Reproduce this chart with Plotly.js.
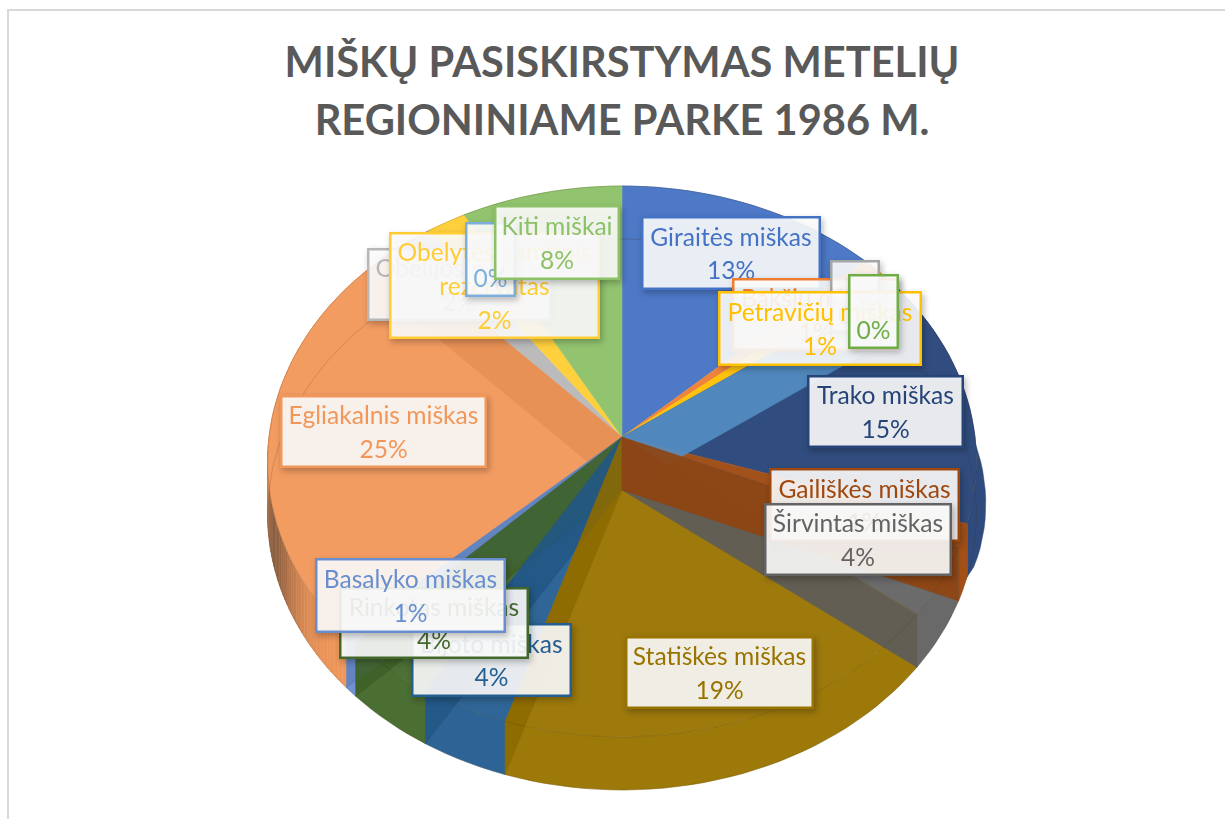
<!DOCTYPE html>
<html>
<head>
<meta charset="utf-8">
<script src="https://cdn.plot.ly/plotly-3.0.1.min.js"></script>
<style>
html,body{margin:0;padding:0;background:#fff;}
.annotation{filter:drop-shadow(2px 3px 3px rgba(0,0,0,.28));}
</style>
</head>
<body>
<div id="chart" style="width:1225px;height:819px;"></div>
<script>
// ---- data ----
const categories = ["Giraitės miškas","Bakšių miškas","","Petravičių miškas","","","Trako miškas","Gailiškės miškas","Širvintas miškas","Statiškės miškas","Bijoto miškas","Rinkotas miškas","Basalyko miškas","Egliakalnis miškas","Obelijos miškas","Obelytės gamtinis<br>rezervatas","","Kiti miškai"];
const shares = [13,1,0,1,0,0,15,1.4,4.1,19.4,3.7,3.9,0.6,24.9,2,2,0,8];
const colors = ["#4472C4","#ED7D31","#A5A5A5","#FFC000","#5B9BD5","#70AD47","#264478","#9E480E","#636363","#997300","#255E91","#43682B","#698ED0","#F1975A","#B7B7B7","#FFCD33","#7CAFDD","#8CC168"];
const titleLines = ["MIŠKŲ PASISKIRSTYMAS METELIŲ","REGIONINIAME PARKE 1986 M."];

// ---- layout of the labels: [category index, left, top, right, bottom] ----
const labelBoxes = [
 [0,641,216,820,289],[1,732,278,898,350],[2,830,260,879,332],[3,718,291,921,365],[5,848,274,898,348],
 [6,807,375,963,447],[7,769,468,959,541],[8,764,503,951,575],[9,625,636,813,708],[10,411,623,571,696],
 [11,339,587,528,658],[12,315,558,505,632],[13,280,395,486,467],[14,367,248,550,320],[15,389,232,599,338],
 [16,465,222,515,296],[17,494,205,619,279]
];

// ---- projection of the tilted disc ----
const AX=622, AY=437, DEPTH=53, RX=353, RY=273.3, K=0.0889;
const TRAKO=6, TRAKO_BULGE=11, EGLIAKALNIS=13;
function rad(d){return d*Math.PI/180;}
function topPt(th){const u=Math.sin(rad(th)),v=Math.cos(rad(th)),d=1+K*v;return [AX+RX*u/d,AY-RY*v/d];}
function botPt(th){const u=Math.sin(rad(th)),v=Math.cos(rad(th)),d=1+K*v;return [AX+RX*u/d,AY+DEPTH-RY*v/d];}
function arc(fn,a,b){const n=Math.max(1,Math.ceil(Math.abs(b-a)/2)),o=[];for(let i=0;i<=n;i++)o.push(fn(a+(b-a)*i/n));return o;}
function mixRGB(hex,t,f){const c=[1,3,5].map(i=>parseInt(hex.substr(i,2),16));return c.map(x=>Math.round(x+(t-x)*f));}
function mix(hex,t,f){return 'rgb('+mixRGB(hex,t,f).join(',')+')';}
function mixA(hex,t,f,a){return 'rgba('+mixRGB(hex,t,f).join(',')+','+a+')';}
function poly(pts,fill,name){
  const xs=pts.map(p=>p[0]).concat(pts[0][0]), ys=pts.map(p=>p[1]).concat(pts[0][1]);
  return {type:'scatter',mode:'lines',x:xs,y:ys,fill:'toself',fillcolor:fill,
    line:{color:fill,width:0.5},name:name,hoverinfo:'name',showlegend:false};
}

const total = shares.reduce((a,b)=>a+b,0);
let c=0; const starts=[],ends=[];
shares.forEach(s=>{starts.push(c/total*360);c+=s;ends.push(c/total*360);});

const rims=[],faces=[],walls=[];
shares.forEach((s,i)=>{
  const name=(categories[i]||'–')+' '+Math.round(s)+'%';
  if(s>0){
    const a=arc(topPt,starts[i],ends[i]);
    let b=arc(botPt,starts[i],ends[i]);
    if(i===TRAKO){
      b=b.map((p,j)=>[p[0]+TRAKO_BULGE*Math.sqrt(Math.sin(Math.PI*j/(b.length-1))),p[1]]);
    }
    if(i===EGLIAKALNIS){
      // the side wall of the large slice darkens towards the left, in narrow steps
      for(let t=starts[i];t<ends[i];t+=1){
        const e=Math.min(t+1,ends[i]);
        const f=0.5*Math.exp(-Math.pow((t-254)/13,2));
        rims.push(poly(arc(topPt,t,e).concat(arc(botPt,t,e).reverse()),mix(colors[i],40,f),name));
      }
    } else {
      rims.push(poly(a.concat(b.reverse()),mix(colors[i],255,0.04),name));
    }
    faces.push(poly([[AX,AY]].concat(a),mix(colors[i],255,0.05),name));
  }
  const th=ends[i], v=Math.cos(rad(th));
  const big=th>300 && s>=20;
  if(((v<=0 && s>0 && i!==TRAKO)) || i===4 || big){
    const fill=big?mix(colors[i],0,0.04):mixA(colors[i],0,0.08,0.9);
    // back to front; on the right-hand side the earlier wall lies on top
    const key=i===4?-2:(th<180?2+(180-th)/180:-v);
    walls.push({key:key,tr:poly([[AX,AY],topPt(th),botPt(th),[AX,AY+DEPTH]],fill,name)});
  }
});
walls.sort((a,b)=>a.key-b.key);

function ring(pts){return {type:'scatter',mode:'lines',x:pts.map(p=>p[0]),y:pts.map(p=>p[1]),
  line:{color:'rgba(60,40,0,0.18)',width:1},hoverinfo:'skip',showlegend:false};}

const traces=[].concat(rims,faces,walls.map(w=>w.tr),[ring(arc(topPt,0,360)),ring(arc(botPt,0,360))]);

const annotations=labelBoxes.map(b=>{
  const i=b[0], name=categories[i];
  const lines=(name?name.split('<br>'):['']).concat(Math.round(shares[i])+'%');
  const txt=lines.map(l=>l?'<span style="font-size:24.6px">'+l+'</span>':' ').join('<br>');
  return {xref:'x',yref:'y',x:(b[1]+b[3])/2,y:(b[2]+b[4])/2,xanchor:'center',yanchor:'middle',showarrow:false,
    text:txt,width:b[3]-b[1]-4,height:b[4]-b[2]-4,align:'center',valign:'middle',
    bgcolor:'rgba(255,255,255,0.89)',bordercolor:colors[i],borderwidth:2.5,borderpad:0,
    font:{family:'Lato, Carlito, sans-serif',size:26,color:colors[i]}};
});

const layout={
  width:1225,height:819,margin:{l:0,r:0,t:0,b:0},paper_bgcolor:'#fff',plot_bgcolor:'#fff',
  title:{text:titleLines.map(l=>'<span style="font-size:41.6px">'+l+'</span>').join('<br>'),
    x:622/1225,xanchor:'center',y:1-77/819,yanchor:'middle',
    font:{family:'Lato, Carlito, sans-serif',size:44.6,color:'#595959',weight:700}},
  xaxis:{range:[0,1225],visible:false,fixedrange:true},
  yaxis:{range:[819,0],visible:false,fixedrange:true},
  shapes:[{type:'rect',xref:'x',yref:'y',x0:8,y0:10,x1:1240,y1:840,line:{color:'#D9D9D9',width:2},layer:'below'}],
  annotations:annotations,showlegend:false
};
Plotly.newPlot('chart',traces,layout,{displayModeBar:false,staticPlot:true});
</script>
</body>
</html>
